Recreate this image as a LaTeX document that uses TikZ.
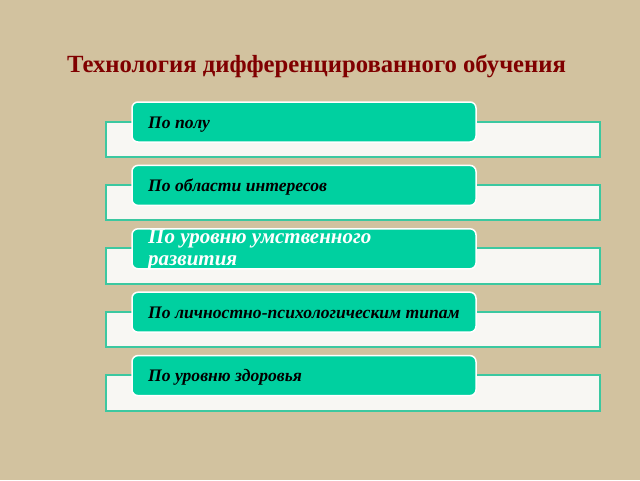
\documentclass[tikz,border=0pt]{standalone}
\usepackage{fontspec}
\setmainfont{Liberation Serif}
\definecolor{bgtan}{RGB}{210,194,159}
\definecolor{titlered}{RGB}{128,0,0}
\definecolor{boxgreen}{RGB}{0,208,160}
\definecolor{rimgreen}{RGB}{60,200,160}
\definecolor{paper}{RGB}{248,247,243}
\tikzset{
  backrect/.style={draw=rimgreen, line width=2pt, fill=paper, minimum width=494pt, minimum height=35.5pt, inner sep=0pt},
  frontbox/.style={draw=white, line width=1.5pt, fill=boxgreen, rounded corners=6pt, minimum width=344pt, minimum height=40pt, inner sep=0pt},
  itemtext/.style={anchor=base west, inner sep=0pt, font=\fontsize{17.6}{20}\selectfont\bfseries\itshape, text=black},
  bigtext/.style={itemtext, text=white, font=\fontsize{21}{23}\selectfont\bfseries\itshape},
}
\begin{document}
\begin{tikzpicture}[x=1pt,y=-1pt]
\useasboundingbox (0,0) rectangle (640,480);
\fill[bgtan] (0,0) rectangle (640,480);
\node[anchor=base, inner sep=0pt, text=titlered, font=\fontsize{24.7}{27}\selectfont\bfseries] (title) at (316.5,72.3) {Технология дифференцированного обучения};
\foreach \i/\txt in {0/По полу,1/По области интересов,3/По личностно-психологическим типам,4/По уровню здоровья}{
  \node[backrect] (w\i) at (353,139.25+63.4*\i) {};
  \node[frontbox] (g\i) at (304,122+63.4*\i) {};
  \node[itemtext] (t\i) at (148,128.3+63.4*\i) {\txt};
}
\node[backrect] (w2) at (353,139.25+63.4*2) {};
\node[frontbox] (g2) at (304,122+63.4*2) {};
\node[bigtext] (t2a) at (148,243.5) {По уровню умственного};
\node[bigtext] (t2b) at (148,265) {развития};
\end{tikzpicture}
\end{document}
